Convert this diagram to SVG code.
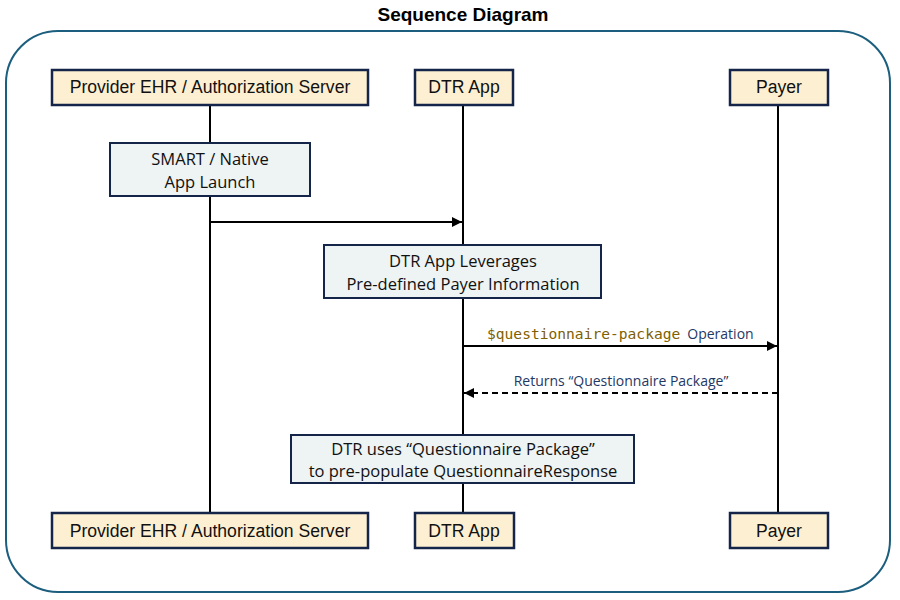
<svg xmlns="http://www.w3.org/2000/svg" width="900" height="600" viewBox="0 0 900 600">
<style>
.title{font-family:"Liberation Sans",Arial,sans-serif;font-weight:bold;font-size:19px;fill:#000}
.actor rect{fill:#fdf0d2;stroke:#15254a;stroke-width:2.5}
.actor text{font-family:"Liberation Sans",Arial,sans-serif;font-size:17.6px;fill:#111;text-anchor:middle}
.note rect{fill:#eef3f3;stroke:#15254a;stroke-width:2}
.note text{font-family:"Open Sans","Noto Sans",sans-serif;font-size:16.5px;fill:#111;text-anchor:middle}
.life{stroke:#000;stroke-width:2}
.msg{stroke:#000;stroke-width:2;fill:none}
.lbl{font-family:"Open Sans","Noto Sans",sans-serif;font-size:14px;fill:#1f3864}
.mono{font-family:"DejaVu Sans Mono","Liberation Mono",monospace;font-size:14.6px;fill:#7f6000}
</style>
<defs>
<marker id="ah" viewBox="0 0 10 10" refX="10" refY="5" markerWidth="5" markerHeight="5" orient="auto-start-reverse" markerUnits="strokeWidth">
<path d="M0,0 L10,5 L0,10 z" fill="#000"/>
</marker>
</defs>
<rect width="900" height="600" fill="#fff"/>
<text class="title" x="463" y="21" text-anchor="middle">Sequence Diagram</text>
<rect x="6" y="31" width="884" height="561" rx="52" ry="52" fill="none" stroke="#1b5e7e" stroke-width="2"/>
<g id="lifelines">
<line class="life" x1="210" y1="105" x2="210" y2="512"/>
<line class="life" x1="463" y1="105" x2="463" y2="512"/>
<line class="life" x1="778" y1="105" x2="778" y2="512"/>
</g>
<g id="connectors">
<line class="msg" x1="210" y1="222" x2="462" y2="222" marker-end="url(#ah)"/>
<line class="msg" x1="463" y1="346" x2="777" y2="346" marker-end="url(#ah)"/>
<line class="msg" x1="778" y1="393" x2="464" y2="393" stroke-dasharray="6,4" marker-end="url(#ah)"/>
<text x="487" y="339"><tspan class="mono">$questionnaire-package</tspan><tspan class="lbl" dx="7">Operation</tspan></text>
<text class="lbl" x="621" y="386" text-anchor="middle">Returns “Questionnaire Package”</text>
</g>
<g id="provider-top" class="actor"><rect x="52" y="70" width="316" height="35"/><text x="210" y="93">Provider EHR / Authorization Server</text></g>
<g id="dtr-top" class="actor"><rect x="415" y="70" width="98" height="35"/><text x="464" y="93">DTR App</text></g>
<g id="payer-top" class="actor"><rect x="730" y="70" width="98" height="35"/><text x="779" y="93">Payer</text></g>
<g id="provider-bottom" class="actor"><rect x="52" y="513" width="316" height="35"/><text x="210" y="537">Provider EHR / Authorization Server</text></g>
<g id="dtr-bottom" class="actor"><rect x="415" y="513" width="99" height="35"/><text x="464" y="537">DTR App</text></g>
<g id="payer-bottom" class="actor"><rect x="730" y="513" width="98" height="35"/><text x="779" y="537">Payer</text></g>
<g id="smart-launch" class="note"><rect x="110" y="143" width="200" height="53"/><text x="210" y="165">SMART / Native</text><text x="210" y="188">App Launch</text></g>
<g id="leverages" class="note"><rect x="324" y="245" width="277" height="53"/><text x="463" y="267">DTR App Leverages</text><text x="463" y="290">Pre-defined Payer Information</text></g>
<g id="prepopulate" class="note"><rect x="291" y="435" width="343" height="48"/><text x="463" y="455">DTR uses “Questionnaire Package”</text><text x="463" y="477">to pre-populate QuestionnaireResponse</text></g>
</svg>
